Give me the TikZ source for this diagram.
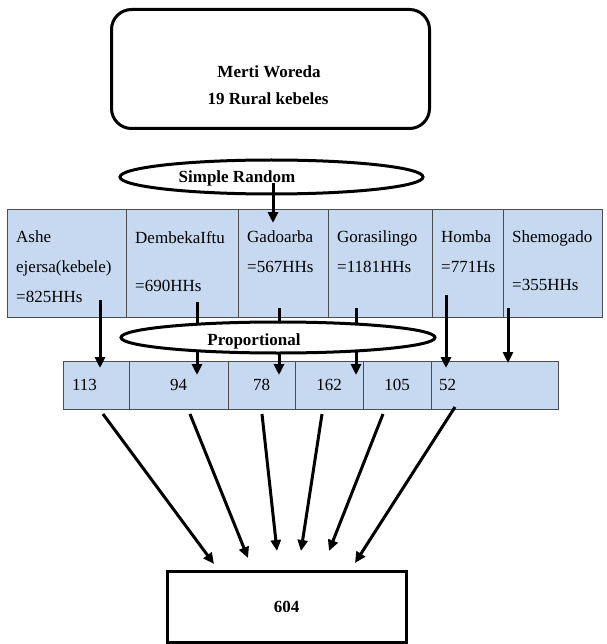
\documentclass[tikz,border=0pt]{standalone}
\usepackage{fontspec}
\setmainfont{Liberation Serif}
\usepackage{tikz}
\usetikzlibrary{shapes,arrows.meta}
\definecolor{cellblue}{HTML}{C6D9F1}

\begin{document}
\begin{tikzpicture}[x=1pt,y=-1pt,
 cell/.style={draw=black!70, line width=0.8pt, fill=cellblue, anchor=north west, inner sep=0pt, outer sep=0pt},
 toprow/.style={cell, minimum height=108pt},
 lowrow/.style={cell, minimum height=48pt, font=\fontsize{17}{20}\selectfont},
 kebele/.style={anchor=north west, inner sep=0pt, align=left, font=\fontsize{17}{30}\selectfont},
 oval/.style={ellipse, draw, line width=3pt, fill=white, inner sep=0pt},
 bold/.style={font=\fontsize{17}{20}\selectfont\bfseries, inner sep=0pt, anchor=base},
 arr/.style={line width=3pt, -{Triangle[length=11pt,width=10pt]}}]

\useasboundingbox (0,0) rectangle (606,644);

 \node (woreda) at (110,8) [draw, line width=3pt, rounded corners=20pt, minimum width=318pt, minimum height=119pt, anchor=north west, inner sep=0pt] {};
 \node (woredaName) at (269,78) [bold] {Merti Woreda};
 \node (kebeleCount) at (268,105) [bold] {19 Rural kebeles};

\node (ashe) at (7,209) [toprow, minimum width=119pt] {};
\node (dembeka) at (126,209) [toprow, minimum width=112pt] {};
\node (gadoarba) at (238,209) [toprow, minimum width=90pt] {};
\node (gorasilingo) at (328,209) [toprow, minimum width=104pt] {};
\node (homba) at (432,209) [toprow, minimum width=71pt] {};
\node (shemogado) at (503,209) [toprow, minimum width=99pt] {};

 \node (asheTxt) at (16,231) [kebele] {Ashe\\ejersa(kebele)\\=825HHs};
 \node (dembekaTxt) at (135,231) [kebele] {DembekaIftu\\[18pt]=690HHs};
 \node (gadoarbaTxt) at (247,231) [kebele] {Gadoarba\\=567HHs};
 \node (gorasilingoTxt) at (337,231) [kebele] {Gorasilingo\\=1181HHs};
 \node (hombaTxt) at (441,231) [kebele] {Homba\\=771Hs};
 \node (shemogadoTxt) at (512,231) [kebele] {Shemogado\\[18pt]=355HHs};

\node (n113) at (63,361) [lowrow, minimum width=66pt, inner xsep=9pt, text width=48pt, align=left] {113};
\node (n94) at (129,361) [lowrow, minimum width=99pt] {94};
\node (n78) at (228,361) [lowrow, minimum width=67pt] {78};
\node (n162) at (295,361) [lowrow, minimum width=68pt] {162};
\node (n105) at (363,361) [lowrow, minimum width=68pt] {105};
\node (n52) at (431,361) [lowrow, minimum width=127pt, inner xsep=8pt, text width=111pt, align=left] {52};

\coordinate (a1) at (100,300); \coordinate (a1e) at (100,368);
\coordinate (a2) at (197,302); \coordinate (a2e) at (197,375);
\coordinate (a3) at (279,308); \coordinate (a3e) at (279,375);
\coordinate (a4) at (356,308); \coordinate (a4e) at (356,375);
\coordinate (a5) at (446,295); \coordinate (a5e) at (446,368);
\coordinate (a6) at (508,308); \coordinate (a6e) at (508,363);

\draw [arr] (a1) -- (a1e);
\draw [arr] (a2) -- (a2e);
\draw [arr] (a3) -- (a3e);
\draw [arr] (a4) -- (a4e);
\draw [arr] (a5) -- (a5e);
\draw [arr] (a6) -- (a6e);

 \node (proportional) at (278,337.5) [oval, minimum width=314pt, minimum height=31pt] {};
 \node (proportionalTxt) at (254,345) [bold] {Proportional};

 \node (simpleRandom) at (271.5,177) [oval, minimum width=303pt, minimum height=34pt] {};
 \node (simpleRandomTxt) at (237,183) [bold] {Simple Random};
\coordinate (sr) at (273,183); \coordinate (srEnd) at (273,223);
\draw [arr] (sr) -- (srEnd);

 \node (total) at (286.5,606.5) [draw, line width=3pt, minimum width=239pt, minimum height=71pt, inner sep=0pt, font=\fontsize{17}{20}\selectfont\bfseries] {604};

\coordinate (b1) at (103,414); \coordinate (b1e) at (214,564);
\coordinate (b2) at (190,414); \coordinate (b2e) at (248,558);
\coordinate (b3) at (262,414); \coordinate (b3e) at (277,551);
\coordinate (b4) at (322,414); \coordinate (b4e) at (301,551);
\coordinate (b5) at (383,414); \coordinate (b5e) at (329,551);
\coordinate (b6) at (455,407); \coordinate (b6e) at (355,563);

\draw [arr] (b1) -- (b1e);
\draw [arr] (b2) -- (b2e);
\draw [arr] (b3) -- (b3e);
\draw [arr] (b4) -- (b4e);
\draw [arr] (b5) -- (b5e);
\draw [arr] (b6) -- (b6e);

\end{tikzpicture}
\end{document}
